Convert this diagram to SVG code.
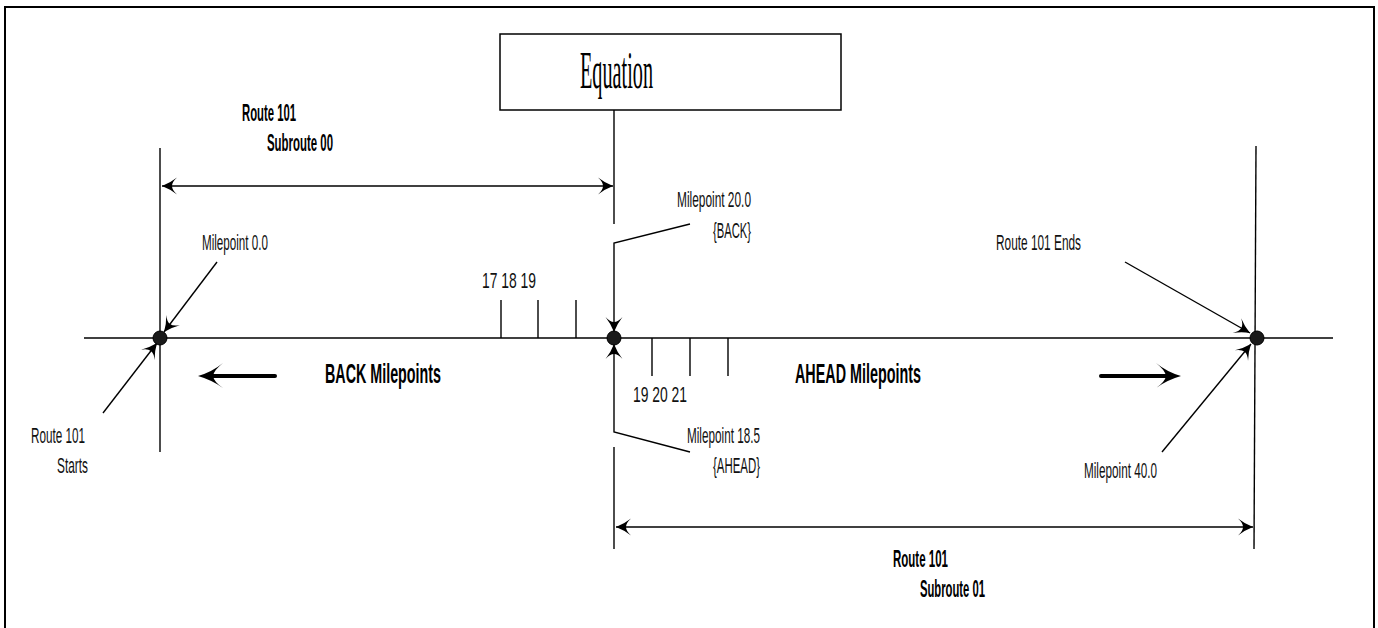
<svg xmlns="http://www.w3.org/2000/svg" width="1378" height="628" viewBox="0 0 1378 628">
<style>
.ln{stroke:#000;stroke-width:1.4;fill:none}
.t{font-family:"Liberation Sans",Arial,sans-serif;font-size:22px;fill:#111}
.b{font-family:"Liberation Sans",Arial,sans-serif;font-size:23px;font-weight:bold;fill:#000}
.bb{font-family:"Liberation Sans",Arial,sans-serif;font-size:27px;font-weight:bold;fill:#000}
.dot{fill:#1a1a1a;stroke:#000;stroke-width:1}
</style>
<defs>
<marker id="ah" markerUnits="userSpaceOnUse" viewBox="-16 -9 17 18" refX="0" refY="0" markerWidth="17" markerHeight="18" orient="auto-start-reverse">
<path d="M0,0 Q-8,-3 -15,-8.5 Q-10,-4 -10,0 Q-10,4 -15,8.5 Q-8,3 0,0 Z" fill="#000"/>
</marker>
</defs>
<rect x="5" y="7" width="1369" height="640" fill="#fff" stroke="#000" stroke-width="2"/>

<g id="equation">
<rect x="500" y="34" width="341" height="76" fill="#fff" stroke="#000" stroke-width="1.5"/>
<text x="580" y="88" font-family="Liberation Serif,Times New Roman,serif" font-size="52" textLength="73" lengthAdjust="spacingAndGlyphs" fill="#000">Equation</text>
</g>

<g id="connectors">
<line class="ln" x1="84" y1="338" x2="1333" y2="338"/>
<line class="ln" x1="160" y1="148" x2="160" y2="452"/>
<line class="ln" x1="1256" y1="146" x2="1254" y2="549"/>
<line class="ln" x1="614" y1="110" x2="614" y2="224"/>
<line class="ln" x1="614" y1="447" x2="614" y2="549"/>
<line class="ln" x1="162" y1="186" x2="613" y2="186" marker-start="url(#ah)" marker-end="url(#ah)"/>
<line class="ln" x1="616" y1="527" x2="1253" y2="527" marker-start="url(#ah)" marker-end="url(#ah)"/>
<line class="ln" x1="501" y1="300" x2="501" y2="338"/>
<line class="ln" x1="538" y1="300" x2="538" y2="338"/>
<line class="ln" x1="576" y1="300" x2="576" y2="338"/>
<line class="ln" x1="652" y1="338" x2="652" y2="376"/>
<line class="ln" x1="690" y1="338" x2="690" y2="376"/>
<line class="ln" x1="728" y1="338" x2="728" y2="376"/>
<line class="ln" x1="217" y1="262" x2="164" y2="332" marker-end="url(#ah)"/>
<line class="ln" x1="103" y1="413" x2="157" y2="343" marker-end="url(#ah)"/>
<polyline class="ln" points="690,224 614,243 614,332" marker-end="url(#ah)"/>
<polyline class="ln" points="690,452 614,432 614,344" marker-end="url(#ah)"/>
<line class="ln" x1="1125" y1="262" x2="1250" y2="333" marker-end="url(#ah)"/>
<line class="ln" x1="1162" y1="452" x2="1251" y2="344" marker-end="url(#ah)"/>
<line x1="275" y1="376" x2="212" y2="376" stroke="#000" stroke-width="4" stroke-linecap="round"/>
<path d="M198,376 Q212,372 223,363 Q214,370 213,376 Q214,382 223,388 Q212,380 198,376 Z" fill="#000"/>
<line x1="1101" y1="376" x2="1168" y2="376" stroke="#000" stroke-width="4" stroke-linecap="round"/>
<path d="M1181,376 Q1167,372 1156,363 Q1165,370 1166,376 Q1165,382 1156,388 Q1167,380 1181,376 Z" fill="#000"/>
</g>

<g id="dots">
<circle class="dot" cx="160" cy="338" r="7"/>
<circle class="dot" cx="614" cy="338" r="7"/>
<circle class="dot" cx="1257" cy="338" r="7"/>
</g>

<g id="labels">
<text class="b" x="242" y="121" textLength="54" lengthAdjust="spacingAndGlyphs">Route 101</text>
<text class="b" x="267" y="151" textLength="66" lengthAdjust="spacingAndGlyphs">Subroute 00</text>
<text class="t" x="202" y="250" textLength="66" lengthAdjust="spacingAndGlyphs">Milepoint 0.0</text>
<text class="t" x="677" y="207" textLength="74" lengthAdjust="spacingAndGlyphs">Milepoint 20.0</text>
<text class="t" x="713" y="238" textLength="38" lengthAdjust="spacingAndGlyphs">{BACK}</text>
<text class="t" x="482" y="288" textLength="54" lengthAdjust="spacingAndGlyphs">17  18  19</text>
<text class="t" x="996" y="250" textLength="85" lengthAdjust="spacingAndGlyphs">Route 101 Ends</text>
<text class="t" x="31" y="443" textLength="54" lengthAdjust="spacingAndGlyphs">Route 101</text>
<text class="t" x="57" y="473" textLength="31" lengthAdjust="spacingAndGlyphs">Starts</text>
<text class="bb" x="325" y="383" textLength="116" lengthAdjust="spacingAndGlyphs">BACK Milepoints</text>
<text class="t" x="633" y="402" textLength="54" lengthAdjust="spacingAndGlyphs">19  20  21</text>
<text class="bb" x="795" y="383" textLength="126" lengthAdjust="spacingAndGlyphs">AHEAD Milepoints</text>
<text class="t" x="687" y="443" textLength="73" lengthAdjust="spacingAndGlyphs">Milepoint 18.5</text>
<text class="t" x="713" y="473" textLength="47" lengthAdjust="spacingAndGlyphs">{AHEAD}</text>
<text class="t" x="1084" y="478" textLength="73" lengthAdjust="spacingAndGlyphs">Milepoint 40.0</text>
<text class="b" x="893" y="567" textLength="55" lengthAdjust="spacingAndGlyphs">Route 101</text>
<text class="b" x="920" y="597" textLength="65" lengthAdjust="spacingAndGlyphs">Subroute 01</text>
</g>
</svg>
